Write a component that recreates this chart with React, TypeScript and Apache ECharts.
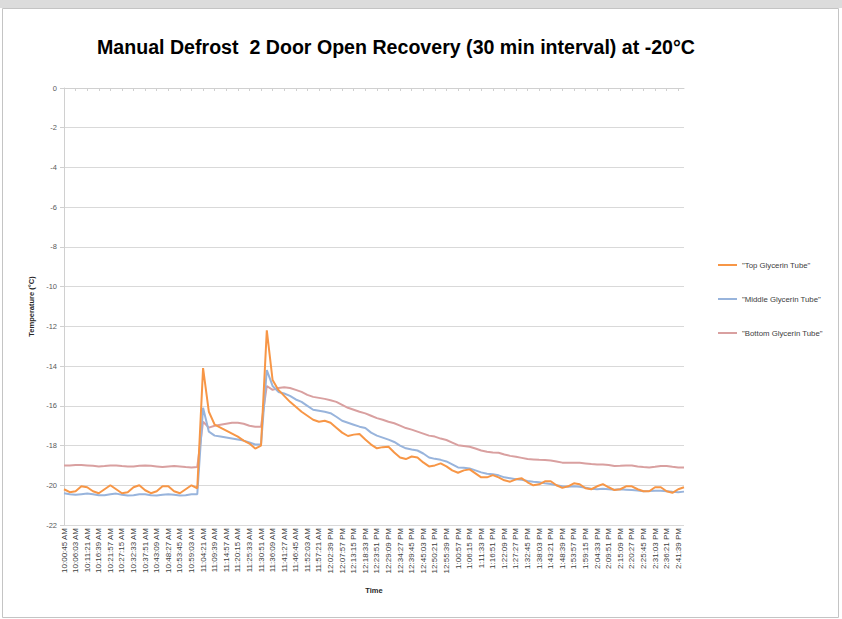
import React, { useEffect, useRef } from "react";
import * as echarts from "echarts";

const TITLE = "Manual Defrost  2 Door Open Recovery (30 min interval) at -20°C";
const Y_NAME = "Temperature (°C)";
const X_NAME = "Time";
const SERIES_NAMES = ['"Top Glycerin Tube"', '"Middle Glycerin Tube"', '"Bottom Glycerin Tube"'];
const SERIES_COLORS = ["#F79646", "#98B4DC", "#D9A0A0"];

// Tick labels shown on the x axis (every second category)
const tickLabels = [
  "10:00:45 AM", "10:06:03 AM", "10:11:21 AM", "10:16:39 AM", "10:21:57 AM", "10:27:15 AM",
  "10:32:33 AM", "10:37:51 AM", "10:43:09 AM", "10:48:27 AM", "10:53:45 AM", "10:59:03 AM",
  "11:04:21 AM", "11:09:39 AM", "11:14:57 AM", "11:20:15 AM", "11:25:33 AM", "11:30:51 AM",
  "11:36:09 AM", "11:41:27 AM", "11:46:45 AM", "11:52:03 AM", "11:57:21 AM", "12:02:39 PM",
  "12:07:57 PM", "12:13:15 PM", "12:18:33 PM", "12:23:51 PM", "12:29:09 PM", "12:34:27 PM",
  "12:39:45 PM", "12:45:03 PM", "12:50:21 PM", "12:55:39 PM", "1:00:57 PM", "1:06:15 PM",
  "1:11:33 PM", "1:16:51 PM", "1:22:09 PM", "1:27:27 PM", "1:32:45 PM", "1:38:03 PM",
  "1:43:21 PM", "1:48:39 PM", "1:53:57 PM", "1:59:15 PM", "2:04:33 PM", "2:09:51 PM",
  "2:15:09 PM", "2:20:27 PM", "2:25:45 PM", "2:31:03 PM", "2:36:21 PM", "2:41:39 PM",
];
// Unlabelled in-between sample times
const midLabels = [
  "10:03:24 AM", "10:08:42 AM", "10:14:00 AM", "10:19:18 AM", "10:24:36 AM", "10:29:54 AM",
  "10:35:12 AM", "10:40:30 AM", "10:45:48 AM", "10:51:06 AM", "10:56:24 AM", "11:01:42 AM",
  "11:07:00 AM", "11:12:18 AM", "11:17:36 AM", "11:22:54 AM", "11:28:12 AM", "11:33:30 AM",
  "11:38:48 AM", "11:44:06 AM", "11:49:24 AM", "11:54:42 AM", "12:00:00 PM", "12:05:18 PM",
  "12:10:36 PM", "12:15:54 PM", "12:21:12 PM", "12:26:30 PM", "12:31:48 PM", "12:37:06 PM",
  "12:42:24 PM", "12:47:42 PM", "12:53:00 PM", "12:58:18 PM", "1:03:36 PM", "1:08:54 PM",
  "1:14:12 PM", "1:19:30 PM", "1:24:48 PM", "1:30:06 PM", "1:35:24 PM", "1:40:42 PM",
  "1:46:00 PM", "1:51:18 PM", "1:56:36 PM", "2:01:54 PM", "2:07:12 PM", "2:12:30 PM",
  "2:17:48 PM", "2:23:06 PM", "2:28:24 PM", "2:33:42 PM", "2:39:00 PM", "2:44:18 PM",
];

const yTicks = [0, -2, -4, -6, -8, -10, -12, -14, -16, -18, -20, -22];

const topTube = [
  -20.2, -20.35, -20.3, -20.05, -20.1, -20.3, -20.4, -20.2, -20.0, -20.2, -20.4, -20.35,
  -20.1, -20.0, -20.25, -20.4, -20.3, -20.05, -20.05, -20.3, -20.4, -20.2, -20.0, -20.15,
  -14.1, -16.3, -16.95, -17.1, -17.25, -17.4, -17.55, -17.75, -17.9, -18.15, -18.0,
  -12.2, -14.7, -15.2, -15.5, -15.8, -16.05, -16.3, -16.5, -16.7, -16.8, -16.75, -16.85,
  -17.1, -17.35, -17.52, -17.45, -17.42, -17.7, -17.95, -18.14, -18.08, -18.06, -18.35, -18.6,
  -18.68, -18.55, -18.6, -18.85, -19.05, -19.0, -18.9, -19.05, -19.25, -19.37, -19.25, -19.2,
  -19.4, -19.6, -19.6, -19.49, -19.6, -19.75, -19.82, -19.7, -19.65, -19.85, -20.0, -19.95,
  -19.8, -19.8, -20.0, -20.13, -20.05, -19.9, -19.95, -20.15, -20.2, -20.05, -19.94, -20.1,
  -20.24, -20.2, -20.05, -20.05, -20.2, -20.3, -20.3, -20.1, -20.1, -20.3, -20.38, -20.2, -20.1,
];

const middleTube = [
  -20.4, -20.45, -20.48, -20.45, -20.42, -20.45, -20.5, -20.5, -20.45, -20.42, -20.48, -20.52,
  -20.5, -20.45, -20.45, -20.5, -20.52, -20.48, -20.45, -20.48, -20.52, -20.5, -20.45, -20.45,
  -16.1, -17.3, -17.5, -17.55, -17.6, -17.65, -17.7, -17.75, -17.85, -17.95, -17.95,
  -14.2, -15.0, -15.3, -15.38, -15.5, -15.68, -15.8, -16.0, -16.2, -16.25, -16.3, -16.37,
  -16.55, -16.75, -16.85, -16.95, -17.05, -17.12, -17.35, -17.5, -17.6, -17.7, -17.82, -18.0,
  -18.14, -18.2, -18.25, -18.4, -18.6, -18.67, -18.72, -18.8, -18.95, -19.1, -19.12, -19.15,
  -19.25, -19.35, -19.42, -19.45, -19.5, -19.6, -19.65, -19.7, -19.72, -19.78, -19.82, -19.85,
  -19.9, -19.94, -20.0, -20.05, -20.07, -20.05, -20.07, -20.12, -20.18, -20.2, -20.18, -20.2,
  -20.22, -20.2, -20.22, -20.24, -20.26, -20.3, -20.29, -20.27, -20.28, -20.3, -20.33, -20.35, -20.32,
];

const bottomTube = [
  -19.0, -19.0, -18.98, -18.98, -19.0, -19.02, -19.05, -19.03, -19.0, -19.0, -19.03, -19.05,
  -19.05, -19.02, -19.0, -19.02, -19.05, -19.08, -19.05, -19.03, -19.05, -19.08, -19.1, -19.08,
  -16.8, -17.1, -17.0, -16.95, -16.9, -16.85, -16.85, -16.9, -17.0, -17.05, -17.05,
  -15.0, -15.2, -15.1, -15.07, -15.1, -15.2, -15.3, -15.45, -15.55, -15.6, -15.65, -15.72,
  -15.8, -15.95, -16.1, -16.2, -16.3, -16.38, -16.5, -16.62, -16.7, -16.8, -16.88, -17.0,
  -17.12, -17.2, -17.3, -17.4, -17.5, -17.55, -17.65, -17.72, -17.85, -17.98, -18.02, -18.06,
  -18.15, -18.25, -18.31, -18.35, -18.36, -18.45, -18.52, -18.56, -18.62, -18.68, -18.7, -18.72,
  -18.73, -18.75, -18.8, -18.86, -18.87, -18.87, -18.87, -18.9, -18.93, -18.95, -18.95, -18.98,
  -19.03, -19.02, -19.0, -19.0, -19.05, -19.08, -19.1, -19.07, -19.03, -19.03, -19.07, -19.1, -19.1,
];

const FONT = "'Liberation Sans', Arial, sans-serif";

export default function App() {
  const ref = useRef<HTMLDivElement>(null);

  useEffect(() => {
    if (!ref.current) return;
    const chart = echarts.init(ref.current, undefined, { renderer: "svg" });

    const categories: string[] = [];
    tickLabels.forEach((t, i) => {
      categories.push(t);
      categories.push(midLabels[i]);
    });

    const dataSets = [topTube, middleTube, bottomTube];

    chart.setOption({
      animation: false,
      backgroundColor: "#ffffff",
      title: {
        text: TITLE,
        left: 97,
        top: 37,
        padding: 0,
        textStyle: { fontFamily: FONT, fontSize: 19.6, fontWeight: "bold", color: "#000000" },
      },
      graphic: [
        { type: "rect", shape: { x: 0, y: 0, width: 842, height: 8 }, style: { fill: "#DCDCDC" }, silent: true },
        {
          type: "rect",
          shape: { x: 2.5, y: 8.5, width: 836, height: 609 },
          style: { fill: "none", stroke: "#C4C4C4", lineWidth: 1 },
          silent: true,
        },
      ],
      legend: {
        orient: "vertical",
        left: 718,
        top: 261,
        padding: 0,
        icon: "rect",
        itemWidth: 19,
        itemHeight: 2,
        itemGap: 26,
        data: SERIES_NAMES,
        textStyle: { fontFamily: FONT, fontSize: 7.8, color: "#404040" },
      },
      grid: { left: 64, right: 158, top: 88, bottom: 94, containLabel: false },
      xAxis: {
        type: "category",
        data: categories,
        boundaryGap: false,
        name: X_NAME,
        nameLocation: "middle",
        nameGap: 61,
        nameTextStyle: { fontFamily: FONT, fontSize: 7.5, fontWeight: "bold", color: "#262626" },
        axisLine: { lineStyle: { color: "#D0D0D0", width: 1 } },
        axisTick: { show: true, interval: 1, length: 3, lineStyle: { color: "#D0D0D0" } },
        axisLabel: {
          interval: 1,
          rotate: 90,
          fontFamily: FONT,
          fontSize: 8,
          color: "#404040",
          margin: 3,
        },
        splitLine: { show: false },
      },
      yAxis: {
        type: "value",
        min: yTicks[yTicks.length - 1],
        max: yTicks[0],
        interval: 2,
        name: Y_NAME,
        nameLocation: "middle",
        nameGap: 29,
        nameTextStyle: { fontFamily: FONT, fontSize: 7.5, fontWeight: "bold", color: "#262626" },
        axisLine: { show: true, lineStyle: { color: "#D0D0D0" } },
        axisTick: { show: true, length: 4, lineStyle: { color: "#D0D0D0" } },
        axisLabel: { fontFamily: FONT, fontSize: 7.5, color: "#595959", margin: 7 },
        splitLine: { lineStyle: { color: "#D9D9D9", width: 1 } },
      },
      series: SERIES_NAMES.map((name, i) => ({
        name,
        type: "line",
        data: dataSets[i],
        symbol: "none",
        color: SERIES_COLORS[i],
        lineStyle: { width: 2, color: SERIES_COLORS[i] },
        z: 3 - i,
      })),
    });

    return () => chart.dispose();
  }, []);

  return (
    <div
      ref={ref}
      style={{ position: "fixed", left: 0, top: 0, width: 842, height: 619, background: "#fff" }}
    />
  );
}
